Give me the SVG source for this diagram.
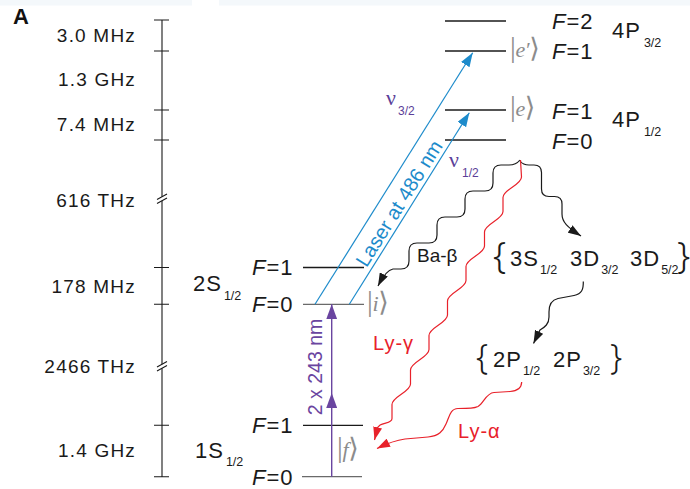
<svg xmlns="http://www.w3.org/2000/svg" width="690" height="489" viewBox="0 0 690 489">
<style>
.lvl{stroke:#1a1a1a;stroke-width:1.3}
.lvlg{stroke:#6a6a6a;stroke-width:1.3}
.ax{stroke:#1a1a1a;stroke-width:1.1;fill:none}
.sc{font-family:"Liberation Sans",Arial,sans-serif;font-size:19px;letter-spacing:1.2px;fill:#1a1a1a;text-anchor:end}
.lb{font-family:"Liberation Sans",Arial,sans-serif;font-size:22px;letter-spacing:1px;fill:#1a1a1a}
.sub{font-size:12.5px;letter-spacing:0}
.it{font-style:italic}
.ket{font-family:"Liberation Serif","DejaVu Serif",serif;fill:#8c8c8c;letter-spacing:-0.4px}
.bar{font-size:29px}
.brk{font-family:"DejaVu Sans",sans-serif;font-size:27px}
.kl{font-size:22px;font-style:italic}
.nu{font-family:"Liberation Serif",serif;font-size:22px;fill:#5b3e98}
.nus{font-family:"Liberation Sans",sans-serif;font-size:12px;fill:#5b3e98}
.blue{stroke:#1d8bcb;stroke-width:1.2;fill:none}
.pur{stroke:#6a45a0;stroke-width:1.4;fill:none}
.wave{fill:none;stroke:#1a1a1a;stroke-width:1.2}
.wred{fill:none;stroke:#e8212a;stroke-width:1.2}
.lbr{font-family:"Liberation Sans",sans-serif;font-size:20px;letter-spacing:1px;fill:#e8212a}
.brace{font-family:"Noto Sans","Liberation Sans",sans-serif;font-weight:300;fill:#1a1a1a}
</style>
<defs>
<marker id="ahBlue" markerUnits="userSpaceOnUse" viewBox="0 0 14 10" markerWidth="14" markerHeight="10" refX="14" refY="5" orient="auto"><path d="M0,0 L14,5 L0,10 Z" fill="#1d8bcb"/></marker>
<marker id="ahPur" markerUnits="userSpaceOnUse" viewBox="0 0 15 11" markerWidth="15" markerHeight="11" refX="15" refY="5.5" orient="auto"><path d="M0,0 L15,5.5 L0,11 Z" fill="#6a45a0"/></marker>
<marker id="ahBlk" markerUnits="userSpaceOnUse" viewBox="0 0 13 9" markerWidth="13" markerHeight="9" refX="13" refY="4.5" orient="auto"><path d="M0,0 L13,4.5 L0,9 Z" fill="#1a1a1a"/></marker>
<marker id="ahRed" markerUnits="userSpaceOnUse" viewBox="0 0 13 9" markerWidth="13" markerHeight="9" refX="13" refY="4.5" orient="auto"><path d="M0,0 L13,4.5 L0,9 Z" fill="#e8212a"/></marker>
</defs>
<rect x="0" y="0" width="192" height="5.5" fill="#f4f8fb"/>
<rect x="219" y="0" width="471" height="5.5" fill="#f4f8fb"/>
<text x="13" y="24" font-family="'Liberation Sans Narrow','Liberation Sans',sans-serif" font-weight="bold" font-size="22" fill="#111">A</text>

<g id="scale">
<path class="ax" d="M162,20 V196.75 M162,200.75 V364.25 M162,368.25 V477"/>
<path class="ax" d="M154,20 H169 M154,51 H169 M154,110 H169 M154,140 H169 M154,267.5 H169 M154,304.3 H169 M154,425.3 H169 M154,476.7 H169"/>
<path class="ax" d="M157,199.5 L167,194 M157,203.5 L167,198 M157,367 L167,361.5 M157,371 L167,365.5"/>
<text class="sc" x="136" y="42">3.0 MHz</text>
<text class="sc" x="136" y="86">1.3 GHz</text>
<text class="sc" x="136" y="131">7.4 MHz</text>
<text class="sc" x="136" y="207">616 THz</text>
<text class="sc" x="136" y="293">178 MHz</text>
<text class="sc" x="136" y="373">2466 THz</text>
<text class="sc" x="136" y="457">1.4 GHz</text>
</g>

<g id="lvl-4P32-F2">
<line class="lvl" x1="445" y1="21" x2="506" y2="21"/>
<text class="lb" x="552" y="29"><tspan class="it">F</tspan>=2</text>
</g>
<g id="lvl-4P32-F1">
<line class="lvl" x1="445" y1="51" x2="506" y2="51"/>
<text class="ket" x="510" y="56.5"><tspan class="bar">|</tspan><tspan class="kl">e′</tspan><tspan class="brk">⟩</tspan></text>
<text class="lb" x="552" y="58.5"><tspan class="it">F</tspan>=1</text>
</g>
<g id="label-4P32">
<text class="lb" x="612" y="37.5">4P<tspan class="sub" dx="3" dy="9">3/2</tspan></text>
</g>
<g id="lvl-4P12-F1">
<line class="lvl" x1="445" y1="110" x2="506" y2="110"/>
<text class="ket" x="510" y="116"><tspan class="bar">|</tspan><tspan class="kl">e</tspan><tspan class="brk">⟩</tspan></text>
<text class="lb" x="552" y="118.5"><tspan class="it">F</tspan>=1</text>
</g>
<g id="lvl-4P12-F0">
<line class="lvl" x1="445" y1="140" x2="506" y2="140"/>
<text class="lb" x="552" y="148.5"><tspan class="it">F</tspan>=0</text>
</g>
<g id="label-4P12">
<text class="lb" x="612" y="127">4P<tspan class="sub" dx="3" dy="8.5">1/2</tspan></text>
</g>

<g id="lvl-2S-F1">
<line class="lvl" x1="303" y1="267.5" x2="364" y2="267.5"/>
<text class="lb" x="252" y="275"><tspan class="it">F</tspan>=1</text>
</g>
<g id="lvl-2S-F0">
<line class="lvlg" x1="303" y1="304.3" x2="364" y2="304.3"/>
<text class="lb" x="252" y="311.7"><tspan class="it">F</tspan>=0</text>
<text class="ket" x="367" y="311"><tspan class="bar">|</tspan><tspan class="kl">i</tspan><tspan class="brk">⟩</tspan></text>
</g>
<g id="label-2S">
<text class="lb" x="193" y="291">2S<tspan class="sub" dx="2" dy="9">1/2</tspan></text>
</g>

<g id="lvl-1S-F1">
<line class="lvl" x1="303" y1="425.3" x2="363" y2="425.3"/>
<text class="lb" x="252" y="433"><tspan class="it">F</tspan>=1</text>
</g>
<g id="ket-f">
<text class="ket" x="337" y="457"><tspan class="bar">|</tspan><tspan class="kl">f</tspan><tspan class="brk">⟩</tspan></text>
</g>
<g id="lvl-1S-F0">
<line class="lvlg" x1="302" y1="476.7" x2="362" y2="476.7"/>
<text class="lb" x="252" y="484.5"><tspan class="it">F</tspan>=0</text>
</g>
<g id="label-1S">
<text class="lb" x="195" y="458">1S<tspan class="sub" dx="2" dy="8">1/2</tspan></text>
</g>

<g id="group-3S3D">
<text class="brace" x="493" y="268" font-size="37">{</text>
<text class="lb" x="510" y="266">3S<tspan class="sub" dx="1" dy="7.5">1/2</tspan></text>
<text class="lb" x="570" y="266">3D<tspan class="sub" dx="1" dy="7.5">3/2</tspan></text>
<text class="lb" x="630" y="266">3D<tspan class="sub" dx="1" dy="7.5">5/2</tspan></text>
<text class="brace" x="677" y="268" font-size="37">}</text>
</g>
<g id="group-2P">
<text class="brace" x="476" y="369" font-size="34">{</text>
<text class="lb" x="493" y="367">2P<tspan class="sub" dx="1" dy="8">1/2</tspan></text>
<text class="lb" x="553" y="367">2P<tspan class="sub" dx="1" dy="8">3/2</tspan></text>
<text class="brace" x="610" y="369" font-size="34">}</text>
</g>

<g id="connectors">
<line class="blue" x1="315" y1="304.3" x2="472.7" y2="52.7" marker-end="url(#ahBlue)"/>
<line class="blue" x1="349.3" y1="304.3" x2="469.3" y2="112.7" marker-end="url(#ahBlue)"/>
<text transform="translate(405,207) rotate(-57.9)" text-anchor="middle" font-family="Liberation Sans,sans-serif" font-size="20" fill="#1d8bcb">Laser at 486 nm</text>
<text class="nu" x="386" y="105">ν</text><text class="nus" x="398" y="115">3/2</text>
<text class="nu" x="449" y="167">ν</text><text class="nus" x="462" y="177">1/2</text>

<path class="pur" d="M331.7,476.7 L331.7,393 L331.7,304.3" marker-mid="url(#ahPur)" marker-end="url(#ahPur)"/>
<text transform="translate(321.5,367) rotate(-90)" text-anchor="middle" font-family="Liberation Sans,sans-serif" font-size="19.5" fill="#6a45a0">2 x 243 nm</text>

<path class="wave" d="M520,160 Q516,165 509,165 L501,165 Q493,165 493,173 L493,183 Q493,191 485,191 L473,191 Q465,191 465,199 L465,209 Q465,217 457,217 L445,217 Q437,217 437,225 L437,235 Q437,243 429,243 L417,243 Q409,243 409,251 L409,261 Q409,269 401,269 L393,269 Q386,270 378,286" marker-end="url(#ahBlk)"/>
<text x="417" y="262" font-family="Liberation Sans,sans-serif" font-size="19" fill="#1a1a1a">Ba-β</text>

<path class="wave" d="M520,161 Q523,165 529,165 L534,165 Q541.5,165 541.5,172.5 L541.5,189 Q541.5,196.5 549,196.5 L554.5,196.5 Q562,196.5 562,204 L562,214 C562,222 567,227 581,236" marker-end="url(#ahBlk)"/>

<path class="wave" d="M583.3,281.5 C583.5,289 582,294 574,295.5 L558,298.5 C551,300 549,305 549,312 L549,317 C549,324 545,327 540,330 L533.5,343.5" marker-end="url(#ahBlk)"/>

<path class="wred" d="M520.5,160 L521.5,177 C521.5,185 503,189.5 503,197.5 L503,211.5 C503,219.5 484.5,224 484.5,232 L484.5,246 C484.5,254 466,258.5 466,266.5 L466,280.5 C466,288.5 447.5,293 447.5,301 L447.5,315 C447.5,323 429,327.5 429,335.5 L429,349.5 C429,357.5 410.5,362 410.5,370 L410.5,384 C410.5,392 392,396.5 392,404.5 L392,418.5 C392,425 378,421 377,430 L374.5,440" marker-end="url(#ahRed)"/>
<text class="lbr" x="373" y="350">Ly-γ</text>

<path class="wred" d="M521.7,382 C521.5,388 518,391 510,391.5 L494,392.5 C486,393 484,403 478,406.5 C474,408.5 470,408.5 458,408.5 C450,408.5 449,418 446,424 C443,431 439,436 428,437 L405,439 C397,440 388,443 377,448.5" marker-end="url(#ahRed)"/>
<text class="lbr" x="458" y="438.3">Ly-α</text>
</g>
</svg>
